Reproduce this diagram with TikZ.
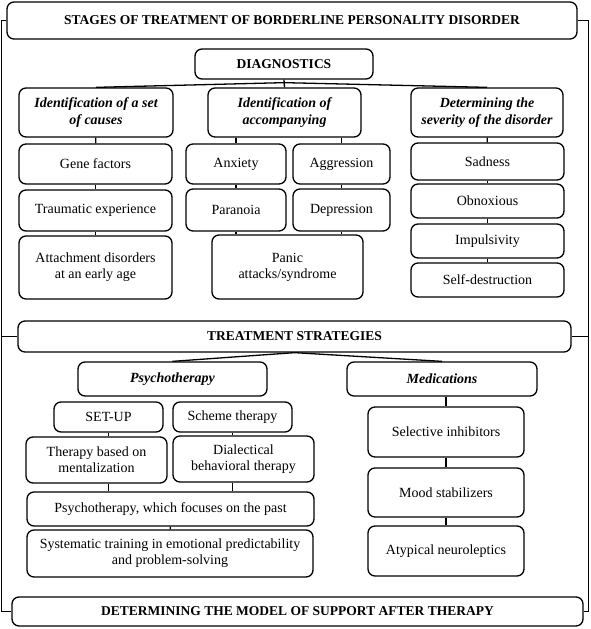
\documentclass[tikz,border=0pt]{standalone}
\usepackage{fontspec}
\setmainfont{Liberation Serif}
\begin{document}
\begin{tikzpicture}[x=1pt,y=-1pt,line width=1.3pt,
    box/.style={draw=black,rounded corners=7pt,align=center,inner sep=0pt,font=\fontsize{14}{16}\selectfont},
    head/.style={box,font=\bfseries\fontsize{13.5}{16}\selectfont},
    sub/.style={box,font=\bfseries\itshape\fontsize{14}{17}\selectfont},
    sz/.style 2 args={minimum width=#1pt,minimum height=#2pt}]
    \useasboundingbox (0,0) rectangle (590,629);
    \node[head,sz={570}{37}] (title) at (292,20.5) {STAGES OF TREATMENT OF BORDERLINE PERSONALITY DISORDER};
    \node[head,sz={178}{30}] (diag) at (284,64) {DIAGNOSTICS};
    \node[sub,sz={154}{49}] (causes) at (96,112.5) {Identification of a set\\of causes};
    \node[sub,sz={153}{49}] (accomp) at (284.5,112.5) {Identification of\\accompanying};
    \node[sub,sz={152}{49}] (severity) at (487,112.5) {Determining the\\severity of the disorder};
    \node[box,sz={153}{40}] (gene) at (95.5,164) {Gene factors};
    \node[box,sz={153}{41}] (trauma) at (95.5,210.5) {Traumatic experience};
    \node[box,sz={153}{63}] (attach) at (95.5,267.5) {Attachment disorders\\at an early age};
    \node[box,sz={100}{40}] (anxiety) at (236,164) {Anxiety};
    \node[box,sz={97}{40}] (aggr) at (341.5,164) {Aggression};
    \node[box,sz={100}{42}] (paranoia) at (236,210) {Paranoia};
    \node[box,sz={97}{42}] (depr) at (341.5,210) {Depression};
    \node[box,sz={151}{64}] (panic) at (287.5,267) {Panic\\attacks/syndrome};
    \node[box,sz={153}{37}] (sadness) at (487.5,161.5) {Sadness};
    \node[box,sz={153}{34}] (obnox) at (487.5,201) {Obnoxious};
    \node[box,sz={153}{34}] (impuls) at (487.5,241) {Impulsivity};
    \node[box,sz={153}{34}] (selfd) at (487.5,280) {Self-destruction};
    \node[head,sz={553}{31}] (treat) at (294.5,336.5) {TREATMENT STRATEGIES};
    \node[sub,sz={189}{34}] (psycho) at (172.5,379) {Psychotherapy};
    \node[sub,sz={190}{34}] (medic) at (442,379) {Medications};
    \node[box,sz={109}{30}] (setup) at (108.5,417) {SET-UP};
    \node[box,sz={119}{30}] (scheme) at (232.5,417) {Scheme therapy};
    \node[box,sz={141}{46}] (mental) at (96.5,460) {Therapy based on\\mentalization};
    \node[box,sz={141}{46}] (dialect) at (243.5,459) {Dialectical\\behavioral therapy};
    \node[box,sz={287}{34}] (past) at (170.5,509) {Psychotherapy, which focuses on the past};
    \node[box,sz={286}{47}] (system) at (170,553.5) {Systematic training in emotional predictability\\and problem-solving};
    \node[box,sz={156}{50}] (selinh) at (446,432) {Selective inhibitors};
    \node[box,sz={156}{49}] (mood) at (446,492.5) {Mood stabilizers};
    \node[box,sz={156}{50}] (atyp) at (446,551) {Atypical neuroleptics};
    \node[head,sz={571}{29}] (determ) at (297.5,611.5) {DETERMINING THE MODEL OF SUPPORT AFTER THERAPY};
    \draw (title.west) -- ++(-5,0) coordinate (lbus) |- (determ.west);
    \draw (treat.west) -- (lbus |- treat.west);
    \draw (title.east) -- ++(11,0) coordinate (rbus) |- (determ.east);
    \draw (treat.east) -- (rbus |- treat.east);
    \coordinate (dj) at ([yshift=-3pt]diag.south);
    \draw (diag.south) -- (accomp.north);
    \draw (dj) -- (causes.north);
    \draw (dj) -- (severity.north);
    \draw (causes) -- (gene);
    \draw (gene) -- (trauma);
    \draw (trauma) -- (attach);
    \draw (anxiety.north |- accomp.south) -- (anxiety.north);
    \draw (aggr.north |- accomp.south) -- (aggr.north);
    \draw (anxiety) -- (paranoia);
    \draw (aggr) -- (depr);
    \draw (paranoia.south) -- (paranoia.south |- panic.north);
    \draw (depr.south) -- (depr.south |- panic.north);
    \draw (severity) -- (sadness);
    \draw (sadness) -- (obnox);
    \draw (obnox) -- (impuls);
    \draw (impuls) -- (selfd);
    \draw (treat.south) -- (psycho.north);
    \draw (treat.south) -- (medic.north);
    \draw (setup.south) -- (setup.south |- mental.north);
    \draw (scheme.south) -- (scheme.south |- dialect.north);
    \draw (setup.south |- mental.south) -- (setup.south |- past.north);
    \draw (scheme.south |- dialect.south) -- (scheme.south |- past.north);
    \draw (past) -- (system);
    \draw (selinh.north |- medic.south) -- (selinh.north);
    \draw (selinh) -- (mood);
    \draw (mood) -- (atyp);
\end{tikzpicture}
\end{document}
